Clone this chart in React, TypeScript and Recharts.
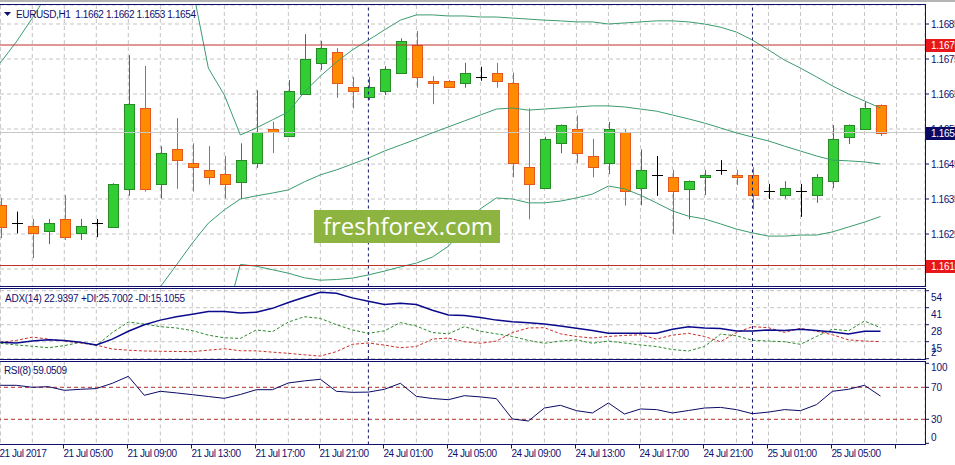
import { ComposedChart, Bar, Line, XAxis, YAxis, CartesianGrid, ReferenceLine } from "recharts";

const W = 955;
const H = 465;
const NAVY = "#10106e";
const FONT = "'Liberation Sans', Arial, sans-serif";
const BB_COLOR = "#3a9c6e";
const GRID = "#c4c4c4";

// hourly bars, 21 Jul 01:00 .. 25 Jul 07:00
const TIME_LABELS = [
  "21 Jul 2017", "21 Jul 05:00", "21 Jul 09:00", "21 Jul 13:00", "21 Jul 17:00", "21 Jul 21:00",
  "24 Jul 01:00", "24 Jul 05:00", "24 Jul 09:00", "24 Jul 13:00", "24 Jul 17:00", "24 Jul 21:00",
  "25 Jul 01:00", "25 Jul 05:00",
];

const OPEN = [
  1.16333, 1.16281, 1.16273, 1.16259, 1.16292, 1.16252, 1.16282, 1.16271, 1.16379, 1.16609,
  1.16392, 1.16493, 1.16452, 1.16433, 1.16421, 1.16399, 1.16452, 1.16549, 1.1653, 1.1665,
  1.16739, 1.16769, 1.16669, 1.16641, 1.16659, 1.16709, 1.16789, 1.16688, 1.16688, 1.16681,
  1.16699, 1.16709, 1.16681, 1.16441, 1.16381, 1.16509, 1.16549, 1.16473, 1.16452, 1.16541,
  1.16381, 1.16419, 1.16412, 1.16379, 1.16412, 1.16433, 1.16419, 1.16419, 1.16372, 1.16361,
  1.16372, 1.16361, 1.16401, 1.16528, 1.16549, 1.1662,
];
const HIGH = [
  1.16353, 1.16314, 1.16293, 1.16293, 1.16361, 1.16293, 1.16293, 1.16395, 1.16761, 1.1673,
  1.16501, 1.16581, 1.16509, 1.16501, 1.16473, 1.16509, 1.16661, 1.16571, 1.1669, 1.16821,
  1.16802, 1.16781, 1.16699, 1.16699, 1.1673, 1.16809, 1.1683, 1.16701, 1.1669, 1.16739,
  1.16728, 1.16739, 1.16711, 1.16609, 1.16528, 1.16563, 1.16589, 1.16522, 1.1657, 1.16549,
  1.16492, 1.16473, 1.16433, 1.16403, 1.16433, 1.16461, 1.16433, 1.16441, 1.16393, 1.16401,
  1.16393, 1.16421, 1.16561, 1.16563, 1.16628, 1.1662,
];
const LOW = [
  1.16238, 1.16252, 1.16181, 1.16221, 1.16233, 1.16233, 1.16241, 1.16268, 1.16359, 1.16371,
  1.16351, 1.16379, 1.16371, 1.16391, 1.16351, 1.16351, 1.16439, 1.16481, 1.16528, 1.16648,
  1.16719, 1.16639, 1.16609, 1.16633, 1.16647, 1.16707, 1.16668, 1.16621, 1.16667, 1.16668,
  1.16688, 1.16668, 1.16412, 1.16292, 1.16379, 1.16481, 1.16452, 1.16412, 1.16421, 1.16331,
  1.16332, 1.16359, 1.1625, 1.16292, 1.16361, 1.16419, 1.1639, 1.16321, 1.1635, 1.16351,
  1.16299, 1.16339, 1.16381, 1.16507, 1.16547, 1.1653,
];
const CLOSE = [
  1.16271, 1.16281, 1.16252, 1.16281, 1.16241, 1.16273, 1.16282, 1.16392, 1.16621, 1.16379,
  1.16481, 1.16461, 1.16441, 1.16412, 1.16392, 1.16461, 1.16541, 1.16541, 1.16659, 1.16749,
  1.16781, 1.16681, 1.16659, 1.16669, 1.16721, 1.16801, 1.16699, 1.16681, 1.16669, 1.16709,
  1.16699, 1.16688, 1.16452, 1.16392, 1.16521, 1.16561, 1.16481, 1.16441, 1.16549, 1.16372,
  1.16432, 1.16419, 1.16372, 1.16401, 1.16419, 1.16433, 1.16412, 1.16361, 1.16372, 1.16381,
  1.16372, 1.16412, 1.16521, 1.16561, 1.16609, 1.1654,
];

// Bollinger bands (values outside the window are estimates)
const BB_UPPER = [
  1.16739, 1.16799, 1.16867, 1.1694, 1.17, 1.1704, 1.1707, 1.1709, 1.171, 1.1708,
  1.1705, 1.1701, 1.16957, 1.16724, 1.16647, 1.16533, 1.16553, 1.16576, 1.16599, 1.16656,
  1.16701, 1.16741, 1.16776, 1.16804, 1.16833, 1.16861, 1.16876, 1.16876, 1.16873, 1.16873,
  1.1687, 1.1687, 1.16867, 1.16864, 1.16861, 1.16859, 1.16856, 1.16856, 1.1685, 1.16853,
  1.16856, 1.16859, 1.16859, 1.16856, 1.1685, 1.16841, 1.16827, 1.16804, 1.16776, 1.16747,
  1.16724, 1.16699, 1.16673, 1.1665, 1.1663, 1.1661,
];
const BB_MIDDLE = [
  1.1579, 1.15815, 1.1584, 1.15865, 1.1589, 1.15915, 1.1594, 1.15965, 1.15995, 1.16035,
  1.16099, 1.16161, 1.16224, 1.16281, 1.16319, 1.1635, 1.16359, 1.16367, 1.16376, 1.16399,
  1.16419, 1.16433, 1.1645, 1.16467, 1.16487, 1.16504, 1.16521, 1.16539, 1.16556, 1.16573,
  1.1659, 1.16607, 1.1661, 1.16604, 1.16607, 1.1661, 1.16613, 1.16616, 1.16616, 1.16613,
  1.16607, 1.16601, 1.1659, 1.16579, 1.16567, 1.16553, 1.16539, 1.16527, 1.16516, 1.16501,
  1.16487, 1.16473, 1.16461, 1.16459, 1.16456, 1.1645,
];
const BB_LOWER = [
  1.14841, 1.14831, 1.14813, 1.1479, 1.1478, 1.1479, 1.1481, 1.1484, 1.1489, 1.1499,
  1.15148, 1.15312, 1.15491, 1.15838, 1.15991, 1.16163, 1.16158, 1.16148, 1.16138, 1.16125,
  1.16118, 1.1612, 1.16124, 1.16133, 1.16144, 1.16156, 1.16167, 1.16184, 1.16215, 1.16267,
  1.16322, 1.16353, 1.1635, 1.16339, 1.16339, 1.16344, 1.16353, 1.16364, 1.16387, 1.16379,
  1.16361, 1.16339, 1.16316, 1.16301, 1.16293, 1.16279, 1.16264, 1.16253, 1.16244, 1.16244,
  1.16247, 1.16247, 1.16256, 1.1627, 1.16284, 1.163,
];

const ADX = [
  14.5, 14, 15.5, 16.5, 16, 14.5, 12.5, 17, 23, 28, 31.5, 34, 36, 38, 38, 37, 37.5, 40.5, 45, 49,
  52.8, 52, 48.5, 46, 43.5, 44.4, 43.4, 39, 35.4, 35, 33.5, 31.5, 30.3, 29.5, 28.6, 27, 25.2, 23.5,
  21.4, 21.4, 21.4, 21.4, 24.5, 26.5, 25.5, 25, 23.2, 23.2, 24, 23.5, 24.6, 23.5, 22.5, 20.9, 23, 22.94,
];
const PLUS_DI = [
  13.8, 12.5, 11.5, 10.4, 12, 14.5, 12, 22, 30, 28.5, 26.5, 25.5, 23.5, 20, 18, 17.5, 24, 22.6, 30, 34.1,
  32.8, 28, 24, 21.4, 23.3, 29.6, 27, 22, 21, 26.5, 23, 21, 19, 16, 13.8, 15.5, 16.4, 13.8, 15.5, 14,
  12.5, 11.3, 9, 7.9, 11.3, 20.8, 19.5, 16.1, 15.5, 15, 13, 19, 24.6, 23.3, 30.8, 25.7,
];
const MINUS_DI = [
  14.5, 16, 18.5, 17, 15.5, 14, 12.4, 9.4, 8.5, 7.9, 7.7, 7.5, 7.4, 8.5, 9.6, 8.1, 8, 7, 6.1, 5,
  4, 7.4, 13, 14, 12.4, 10.4, 11.3, 17, 17.8, 15, 13.8, 15.5, 22, 25.5, 25.7, 21, 19, 17.8, 19, 19.8,
  20.3, 17, 20, 21.4, 19, 15, 22, 26.5, 25.7, 22.1, 25.2, 23, 20.3, 16.4, 15.5, 15.1,
];
const RSI = [
  72.5, 72.5, 70, 70.8, 66.2, 67.5, 68.4, 75, 83.7, 60, 65, 63, 60.8, 58.5, 56.2, 61, 67, 67, 75.4, 78,
  80, 65, 63.7, 64, 67.5, 75, 58.7, 56, 54.5, 59.5, 58, 55.8, 30.4, 27.9, 44.1, 47.5, 40.8, 37.9, 50.4, 36.6,
  42.9, 42.1, 37.9, 41, 44.1, 44.9, 42.1, 37, 39, 42.1, 40.8, 48.3, 65, 67.5, 72.5, 59.05,
];

const PRICE_TICKS = [1.1615, 1.1625, 1.1635, 1.1645, 1.1655, 1.1665, 1.1675, 1.1685];
const ADX_TICKS = [2, 15, 28, 41, 54];
const RSI_TICKS = [0, 30, 70, 100];
const RSI_LEVELS = [30, 70];
const PRICE_LINES = [1.1679, 1.1616];
const DAY_BREAKS = [23, 47];
const GRID_TICKS = Array.from({ length: 29 }, (_, i) => i * 2);

const X_DOMAIN = [-0.01875, 57.78125];
const PRICE_DOMAIN = [1.161, 1.169043];
const ADX_DOMAIN = [1.77, 55.68];
const RSI_DOMAIN = [-1.5, 102.25];

const data = OPEN.map((o, i) => ({
  k: i,
  o,
  h: HIGH[i],
  l: LOW[i],
  c: CLOSE[i],
  range: [LOW[i], HIGH[i]],
  up: BB_UPPER[i],
  mid: BB_MIDDLE[i],
  lo: BB_LOWER[i],
  adx: ADX[i],
  pdi: PLUS_DI[i],
  mdi: MINUS_DI[i],
  rsi: RSI[i],
}));

const Candle = (props: any) => {
  const { x, y, width, height, payload } = props;
  if (x == null || !payload) return <g />;
  const { o, h, l, c } = payload;
  const top = Math.min(y, y + height);
  const bot = Math.max(y, y + height);
  const py = (v: number) => top + ((h - v) / (h - l)) * (bot - top);
  const cx = Math.round(x + width / 2) + 0.5;
  if (o === c) {
    const yc = Math.round(py(o)) + 0.5;
    return (
      <g>
        <line x1={cx} x2={cx} y1={top} y2={bot} stroke="#000" />
        <line x1={cx - 5.5} x2={cx + 5.5} y1={yc} y2={yc} stroke="#000" />
      </g>
    );
  }
  const bull = c > o;
  const stroke = bull ? "#268a26" : "#e4581e";
  const fill = bull ? "#32cd32" : "#ff8c00";
  const y1 = Math.round(py(Math.max(o, c))) + 0.5;
  const y2 = Math.round(py(Math.min(o, c))) + 0.5;
  return (
    <g>
      <line x1={cx} x2={cx} y1={top} y2={bot} stroke={stroke} />
      <rect x={cx - 5} y={y1} width={10} height={Math.max(y2 - y1, 1)} fill={fill} stroke={stroke} />
    </g>
  );
};

const PriceTag = (props: any) => {
  const { viewBox, tagText, tagColor } = props;
  if (!viewBox) return <g />;
  const x = viewBox.x + viewBox.width + 1;
  const y = Math.round(viewBox.y);
  return (
    <g>
      <rect x={x} y={y - 6} width={34} height={13} fill={tagColor} />
      <text x={x + 5} y={y + 4} fill="#fff" fontSize={10} fontFamily={FONT} letterSpacing={-0.3}>
        {tagText}
      </text>
    </g>
  );
};

const AdxTick = ({ x, y, payload }: any) => (
  <text x={x} y={y + (payload.value === ADX_TICKS[0] ? -3 : 10)} fontSize={10} fill={NAVY} fontFamily={FONT}>
    {payload.value}
  </text>
);

const RsiTick = ({ x, y, payload }: any) => {
  const v = payload.value;
  const dy = v === 100 ? 8 : v === 0 ? -2.5 : 3.5;
  return (
    <text x={x} y={y + dy} fontSize={10} fill={NAVY} fontFamily={FONT}>
      {v}
    </text>
  );
};

const TimeTick = ({ x, y, payload }: any) => {
  if (payload.value % 4 !== 0) return <g />;
  const label = TIME_LABELS[payload.value / 4];
  const tx = Math.round(x) - 0.5;
  return (
    <g>
      <line x1={tx} x2={tx} y1={y} y2={y + 4} stroke={NAVY} />
      <text x={tx} y={y + 12.5} fontSize={10} fill={NAVY} fontFamily={FONT} letterSpacing={-0.45}>
        {label}
      </text>
    </g>
  );
};

const layer: React.CSSProperties = { position: "absolute", left: 0, top: 0 };

const xProps = {
  type: "number" as const,
  dataKey: "k",
  domain: X_DOMAIN,
  ticks: GRID_TICKS,
  allowDataOverflow: true,
  interval: 0 as const,
};

const yProps = {
  orientation: "right" as const,
  type: "number" as const,
  allowDataOverflow: true,
  interval: 0 as const,
  width: 30,
  tickSize: 4,
  tickMargin: 2,
  axisLine: false,
  tickLine: { stroke: NAVY },
};

const dayBreaks = DAY_BREAKS.map((k) => (
  <ReferenceLine key={`d${k}`} x={k} stroke={NAVY} strokeDasharray="3 3" />
));

export default function App() {
  const last = CLOSE[CLOSE.length - 1];
  return (
    <div style={{ position: "absolute", left: 0, top: 0, width: W, height: H, background: "#fff", overflow: "hidden" }}>
      {/* price window */}
      <div style={layer}>
        <ComposedChart width={W} height={H} data={data} margin={{ top: 5, right: 0, bottom: 178.5, left: 0 }}>
          <CartesianGrid stroke={GRID} strokeDasharray="4 3" />
          <XAxis {...xProps} hide />
          <YAxis
            {...yProps}
            domain={PRICE_DOMAIN}
            ticks={PRICE_TICKS}
            tickFormatter={(v: number) => v.toFixed(4)}
            tick={{ fontSize: 10, fill: NAVY, fontFamily: FONT, letterSpacing: -0.4 }}
          />
          <ReferenceLine y={last} stroke="#c8c8c8" />
          {dayBreaks}
          <Line dataKey="up" stroke={BB_COLOR} dot={false} isAnimationActive={false} />
          <Line dataKey="mid" stroke={BB_COLOR} dot={false} isAnimationActive={false} />
          <Line dataKey="lo" stroke={BB_COLOR} dot={false} isAnimationActive={false} />
          <Bar dataKey="range" barSize={11} isAnimationActive={false} shape={(p: any) => <Candle {...p} />} />
          {PRICE_LINES.map((p) => (
            <ReferenceLine key={p} y={p} stroke="#c0302a" />
          ))}
        </ComposedChart>
      </div>

      {/* price tags drawn above the axis labels */}
      <div style={layer}>
        <ComposedChart width={W} height={H} data={data} margin={{ top: 5, right: 30, bottom: 178.5, left: 0 }}>
          <XAxis {...xProps} hide />
          <YAxis hide type="number" domain={PRICE_DOMAIN} allowDataOverflow />
          {PRICE_LINES.map((p) => (
            <ReferenceLine
              key={p}
              y={p}
              stroke="none"
              label={<PriceTag tagText={p.toFixed(4)} tagColor="#e8161b" />}
            />
          ))}
          <ReferenceLine y={last} stroke="none" label={<PriceTag tagText={last.toFixed(4)} tagColor="#0a0a66" />} />
        </ComposedChart>
      </div>

      {/* ADX window */}
      <div style={layer}>
        <ComposedChart width={W} height={H} data={data} margin={{ top: 288.5, right: 0, bottom: 106, left: 0 }}>
          <CartesianGrid stroke={GRID} strokeDasharray="4 3" />
          <XAxis {...xProps} hide />
          <YAxis {...yProps} domain={ADX_DOMAIN} ticks={ADX_TICKS} tick={<AdxTick />} />
          {dayBreaks}
          <Line dataKey="pdi" stroke="#2a8a2a" strokeDasharray="3 2" dot={false} isAnimationActive={false} />
          <Line dataKey="mdi" stroke="#c8302a" strokeDasharray="3 2" dot={false} isAnimationActive={false} />
          <Line dataKey="adx" stroke="#0a0a8c" strokeWidth={1.5} dot={false} isAnimationActive={false} />
        </ComposedChart>
      </div>

      {/* RSI window */}
      <div style={layer}>
        <ComposedChart width={W} height={H} data={data} margin={{ top: 361.5, right: 0, bottom: 0, left: 0 }}>
          <CartesianGrid stroke={GRID} strokeDasharray="4 3" horizontal={false} />
          <XAxis {...xProps} height={20.5} tickSize={0} tickMargin={0} tickLine={false} axisLine={false} tick={<TimeTick />} />
          <YAxis {...yProps} domain={RSI_DOMAIN} ticks={RSI_TICKS} tick={<RsiTick />} />
          {RSI_LEVELS.map((v) => (
            <ReferenceLine key={v} y={v} stroke="#b03028" strokeDasharray="4 3" />
          ))}
          {dayBreaks}
          <Line dataKey="rsi" stroke="#0a0a66" dot={false} isAnimationActive={false} />
        </ComposedChart>
      </div>

      {/* frames, captions, watermark */}
      <svg width={W} height={H} style={{ ...layer, pointerEvents: "none" }}>
        <rect x={0} y={0} width={W} height={2} fill="#b4b4b4" />
        <g stroke={NAVY} strokeWidth={1} fill="none">
          <line x1={0} x2={926} y1={4.5} y2={4.5} />
          <line x1={0} x2={926} y1={286.5} y2={286.5} />
          <line x1={0} x2={926} y1={288.5} y2={288.5} />
          <line x1={0} x2={926} y1={359.5} y2={359.5} />
          <line x1={0} x2={926} y1={361.5} y2={361.5} />
          <line x1={0} x2={926} y1={444.5} y2={444.5} />
          <line x1={925.5} x2={925.5} y1={4} y2={287} />
          <line x1={925.5} x2={925.5} y1={288} y2={360} />
          <line x1={925.5} x2={925.5} y1={361} y2={445} />
        </g>
        <polygon points="4,12 11,12 7.5,16" fill={NAVY} />
        <text x={16} y={17.6} fontSize={10} fill={NAVY} fontFamily={FONT} textLength={180} style={{ whiteSpace: "pre" }}>
          EURUSD,H1  1.1662 1.1662 1.1653 1.1654
        </text>
        <text x={5} y={301.9} fontSize={10} fill={NAVY} fontFamily={FONT} textLength={180}>
          ADX(14) 22.9397 +DI:25.7002 -DI:15.1055
        </text>
        <text x={4} y={374} fontSize={10} fill={NAVY} fontFamily={FONT} textLength={63}>
          RSI(8) 59.0509
        </text>
        <rect x={314} y={210} width={186} height={33} fill="#8db440" />
        <text x={323} y={235} fontSize={24} fill="#fff" fontFamily="'Open Sans', sans-serif" textLength={170} lengthAdjust="spacingAndGlyphs">
          freshforex.com
        </text>
      </svg>
    </div>
  );
}
